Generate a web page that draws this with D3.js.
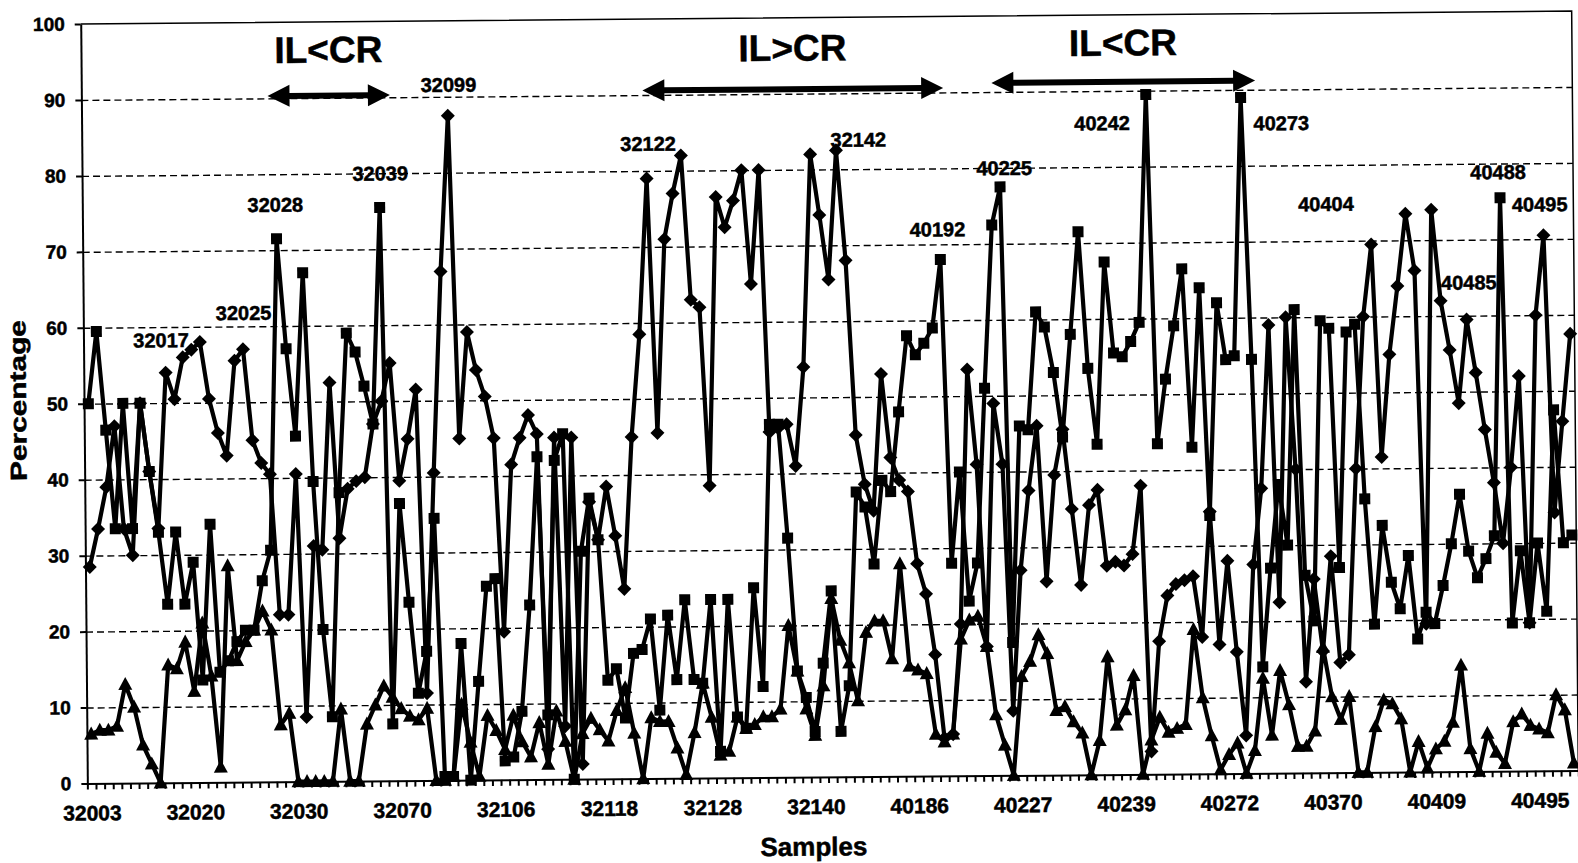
<!DOCTYPE html>
<html>
<head>
<meta charset="utf-8">
<script src="https://cdn.jsdelivr.net/npm/d3@7"></script>
<style>
  body { margin: 0; background: #fff; }
  svg text { font-family: "Liberation Sans", Arial, sans-serif; font-weight: bold; fill: #000; stroke: #000; stroke-width: 0.5px; }
  .grid line { stroke: #000; stroke-width: 1.4; stroke-dasharray: 7 4; }
  .grid path { display: none; }
  .axis path, .axis line { stroke: #000; stroke-width: 2; }
</style>
</head>
<body>
<svg class="chart" width="1578" height="863"></svg>
<script>
let canvasWidth = 1578;
let canvasHeight = 863;
let plotLeft = 84, plotRight = 1575, plotTop = 24, plotBottom = 783.5;
let tilt = -0.5; // the scanned page is a little rotated

// samples on the x axis (one every 12 gets a label)
const sampleCount = 173;
const tickIndex = [0, 12, 24, 36, 48, 60, 72, 84, 96, 108, 120, 132, 144, 156, 168];
const tickLabels = ["32003", "32020", "32030", "32070", "32106", "32118", "32128", "32140",
                    "40186", "40227", "40239", "40272", "40370", "40409", "40495"];

// series with square markers
const squareSeries = [
  50, 59.5, 46.5, 33.5, 50, 33.5, 50, 41, 33, 23.5, 33, 23.5,
  29, 13.5, 34, 14.5, 16, 18.5, 20, 20, 26.5, 30.5, 71.5, 57,
  45.5, 67, 39.5, 20, 8.5, 38, 59, 56.5, 52, 47, 75.5, 7.5,
  36.5, 23.5, 11.5, 17, 34.5, 0.5, 0.5, 18, 0, 13, 25.5, 26.5,
  2.5, 3, 9, 23, 42.5, 8.5, 42, 45.5, 0, 30, 37, 31.5,
  13, 14.5, 8, 16.5, 17, 21, 9, 21.5, 13, 23.5, 13, 12.5,
  23.5, 3.5, 23.5, 8, 6.5, 25, 12, 46.5, 46.5, 31.5, 14, 10.5,
  6, 15, 24.5, 6, 12, 37.5, 35.5, 28, 39, 37.5, 48, 58,
  55.5, 57, 59, 68, 28, 40, 23, 28, 51, 72.5, 77.5, 17.5,
  46, 45.5, 61, 59, 53, 44.5, 58, 71.5, 53.5, 43.5, 67.5, 55.5,
  55, 57, 59.5, 89.5, 43.5, 52, 59, 66.5, 43, 64, 34, 62,
  54.5, 55, 89, 54.5, 14, 27, 38, 30, 61, 26, 20, 59.5,
  58.5, 27, 58, 59, 36, 19.5, 32.5, 25, 21.5, 28.5, 17.5, 21,
  19.5, 24.5, 30, 36.5, 29, 25.5, 28, 31, 75.5, 19.5, 29, 19.5,
  30, 21, 47.5, 30, 31
];

// series with diamond markers
const diamondSeries = [
  28.5, 33.5, 39, 47, 33.5, 30, 50, 41, 33.5, 54, 50.5, 56,
  57, 58, 50.5, 46, 43, 55.5, 57, 45, 42, 40.5, 22, 22,
  40.5, 8.5, 31, 30.5, 52.5, 32, 38.5, 39.5, 40, 47, 50, 55,
  39.5, 45, 51.5, 11.5, 40.5, 67, 87.5, 45, 59, 54, 50.5, 45,
  19.5, 41.5, 45, 48, 45.5, 4, 45, 7, 45, 2, 36.5, 31.5,
  38.5, 32, 25, 45, 58.5, 79, 45.5, 71, 77, 82, 63, 62,
  38.5, 76.5, 72.5, 76, 80, 65, 80, 45.5, 46, 46.5, 41, 54,
  82, 74, 65.5, 82.5, 68, 45, 38.5, 35, 53, 42, 39, 37.5,
  28, 24, 16, 5, 5.5, 20, 53.5, 41, 17, 49, 41, 8.5,
  27, 37.5, 46, 25.5, 39.5, 45.5, 35, 25, 35.5, 37.5, 27.5, 28,
  27.5, 29, 38, 3, 17.5, 23.5, 25, 25.5, 26, 18, 34.5, 17,
  28, 16, 5, 27.5, 37.5, 59, 22.5, 60, 40, 12, 25.5, 16,
  28.5, 14.5, 15.5, 40, 60, 69.5, 41.5, 55, 64, 73.5, 66, 19.5,
  74, 62, 55.5, 48.5, 59.5, 52.5, 45, 38, 30, 40, 52, 19.5,
  60, 70.5, 34, 46, 57.5
];

// series with triangle markers
const triangleSeries = [
  6.5, 7, 7, 7.5, 13, 10, 5, 2.5, 0, 15.5, 15, 18.5,
  12, 21, 14, 2, 28.5, 16, 18.5, 20, 22.5, 20, 7.5, 9,
  0, 0, 0, 0, 0, 9.5, 0, 0, 7.5, 10, 12.5, 11,
  9.5, 8.5, 8, 9.5, 0, 0, 0.5, 10, 5, 0.5, 8.5, 6.5,
  4, 8.5, 5, 3, 7.5, 2, 9, 5, 0, 6, 8, 6.5,
  5, 9, 12, 6, 0, 8, 7.5, 7.5, 4, 0.5, 6, 12.5,
  8, 3, 3.5, 8, 6.5, 7, 8, 8, 9, 20, 14, 9,
  5.5, 12, 23.5, 18, 15, 10, 19, 20.5, 20.5, 15.5, 28, 14.5,
  14, 13.5, 5.5, 4.5, 5.5, 18, 20.5, 21, 17, 8, 4, 0,
  13, 15, 18.5, 16, 8.5, 9, 7, 5.5, 0, 4.5, 15.5, 6.5,
  8.5, 13, 0, 4.5, 7.5, 5.5, 6, 6.5, 19, 10, 5, 0.5,
  2.5, 4, 0, 3, 12.5, 5, 13.5, 9, 3.5, 3.5, 5.5, 16.5,
  10, 7, 10, 0, 0, 6, 9.5, 9, 7, 0, 4, 0.5,
  3, 4, 6.5, 14, 3, 0, 5, 2.5, 1, 6.5, 7.5, 6,
  5.5, 5, 10, 8, 1
];

// sample ids written next to peaks (sample position, percentage)
const peakLabels = ["32017", "32025", "32028", "32039", "32099", "32122", "32142", "40192",
                    "40225", "40242", "40273", "40404", "40485", "40488", "40495"];
const peakIdx = [8.5, 18.1, 21.9, 34.1, 42.1, 65.2, 89.6, 98.7, 106.5, 117.9, 138.7, 143.8, 160.3, 163.8, 168.6];
const peakVal = [58.3, 61.8, 76.0, 80.0, 91.6, 83.6, 83.9, 72.0, 80.0, 85.8, 85.6, 74.9, 64.4, 78.9, 74.6];

// ranges marked with double arrows
const regionLabels = ["IL<CR", "IL>CR", "IL<CR"];
const regionFrom = [21.1, 64.6, 105.1];
const regionTo = [35.3, 99.5, 135.7];
const regionArrowVal = [90.3, 90.6, 91.2];
const regionTextVal = [96.4, 96.1, 96.4];

draw();

function draw() {
  const svg = d3.select(".chart");
  const g = svg.append("g").attr("transform", `rotate(${tilt}, ${plotLeft}, 400)`);

  const xScale = d3.scaleLinear()
      .domain([-0.5, sampleCount - 0.5])
      .range([plotLeft, plotRight]);
  const yScale = d3.scaleLinear()
      .domain([0, 100])
      .range([plotBottom, plotTop]);

  // dashed grid
  const yGrid = d3.axisLeft(yScale)
      .tickValues(d3.range(10, 100, 10))
      .tickSize(-(plotRight - plotLeft))
      .tickFormat("");
  g.append("g")
      .attr("class", "grid")
      .attr("transform", `translate(${plotLeft},0)`)
      .call(yGrid);

  // frame top + right
  g.append("path")
      .attr("d", `M${plotLeft},${plotTop}H${plotRight}V${plotBottom}`)
      .attr("fill", "none").attr("stroke", "#000").attr("stroke-width", 1.5);

  // Y axis
  const yAxis = d3.axisLeft(yScale)
      .tickValues(d3.range(0, 101, 10))
      .tickSize(6).tickPadding(10).tickSizeOuter(0);
  g.append("g")
      .attr("class", "axis")
      .attr("transform", `translate(${plotLeft},0)`)
      .call(yAxis)
      .selectAll("text").style("font-size", "19px");

  // X axis: small ticks between samples, labels every 12 samples
  const xMinor = d3.axisBottom(xScale)
      .tickValues(d3.range(-0.5, sampleCount, 1))
      .tickSize(6).tickSizeOuter(0).tickFormat("");
  g.append("g")
      .attr("class", "axis")
      .attr("transform", `translate(0,${plotBottom})`)
      .call(xMinor);

  const xAxis = d3.axisBottom(xScale)
      .tickValues(tickIndex)
      .tickFormat((d, i) => tickLabels[i])
      .tickSize(0).tickPadding(22);
  const xa = g.append("g")
      .attr("transform", `translate(0,${plotBottom})`)
      .call(xAxis);
  xa.select(".domain").remove();
  xa.selectAll("text").style("font-size", "21px");

  // axis titles
  g.append("text")
      .attr("x", 810).attr("y", 862)
      .attr("text-anchor", "middle")
      .style("font-size", "26px")
      .text("Samples");
  g.append("text")
      .attr("transform", "translate(26,400) rotate(-90)")
      .attr("text-anchor", "middle")
      .attr("textLength", 161).attr("lengthAdjust", "spacingAndGlyphs")
      .style("font-size", "23px")
      .text("Percentage");

  // peak labels (under the lines, as in the original)
  g.append("g").selectAll("text")
      .data(peakLabels)
      .enter().append("text")
      .attr("x", (d, i) => xScale(peakIdx[i]))
      .attr("y", (d, i) => yScale(peakVal[i]))
      .attr("dy", "0.36em")
      .attr("text-anchor", "middle")
      .style("font-size", "20px")
      .text(d => d);

  // series
  const series = [
    { values: diamondSeries, shape: "M0,-7L7,0L0,7L-7,0Z" },
    { values: squareSeries, shape: "M-5.5,-5.5H5.5V5.5H-5.5Z" },
    { values: triangleSeries, shape: "M0,-7.5L7,5.5L-7,5.5Z" }
  ];
  const line = d3.line()
      .x((d, i) => xScale(i))
      .y(d => yScale(d));

  series.forEach(s => {
    g.append("path")
        .datum(s.values)
        .attr("d", line)
        .attr("fill", "none")
        .attr("stroke", "#000")
        .attr("stroke-width", 4.2)
        .attr("stroke-linejoin", "round");
  });
  series.forEach(s => {
    g.append("g").selectAll("path")
        .data(s.values)
        .enter().append("path")
        .attr("d", s.shape)
        .attr("transform", (d, i) => `translate(${xScale(i)},${yScale(d)})`)
        .attr("fill", "#000");
  });

  // double arrows + region titles
  regionLabels.forEach((lab, i) => {
    const x1 = xScale(regionFrom[i]), x2 = xScale(regionTo[i]), yy = yScale(regionArrowVal[i]);
    const head = 22, hw = 11;
    g.append("line")
        .attr("x1", x1 + head - 2).attr("x2", x2 - head + 2)
        .attr("y1", yy).attr("y2", yy)
        .attr("stroke", "#000").attr("stroke-width", 6);
    g.append("path")
        .attr("d", `M${x1},${yy}L${x1 + head},${yy - hw}L${x1 + head},${yy + hw}Z` +
                   `M${x2},${yy}L${x2 - head},${yy - hw}L${x2 - head},${yy + hw}Z`)
        .attr("fill", "#000");
    g.append("text")
        .attr("x", (x1 + x2) / 2)
        .attr("y", yScale(regionTextVal[i]))
        .attr("dy", "0.36em")
        .attr("text-anchor", "middle")
        .attr("textLength", 108).attr("lengthAdjust", "spacingAndGlyphs")
        .style("font-size", "37px")
        .text(lab);
  });
}
</script>
</body>
</html>
